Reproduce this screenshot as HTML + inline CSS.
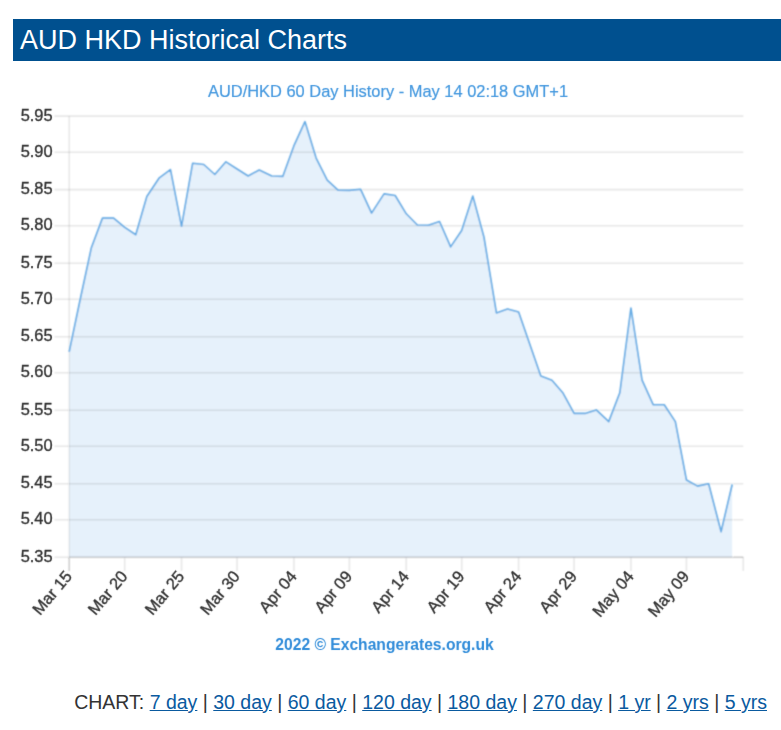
<!DOCTYPE html>
<html><head><meta charset="utf-8"><title>AUD HKD Historical Charts</title>
<style>
html,body{margin:0;padding:0;background:#fff;}
body{width:781px;height:730px;position:relative;overflow:hidden;font-family:"Liberation Sans",sans-serif;}
h2{position:absolute;left:13px;top:19px;width:761px;height:41.5px;margin:0;padding:0 0 0 7px;background:#00508f;color:#fff;font-weight:normal;font-size:27px;line-height:43px;white-space:nowrap;}
svg{position:absolute;left:0;top:0;}
svg text{font-family:"Liberation Sans",sans-serif;}
.links{position:absolute;left:0;top:690px;width:767px;text-align:right;font-size:19.5px;line-height:24px;color:#333;white-space:nowrap;}
.links a{color:#0a5a9f;text-decoration:underline;}
</style></head><body>
<h2>AUD HKD Historical Charts</h2>
<svg width="781" height="730" viewBox="0 0 781 730">
<defs><filter id="bl" x="-5%" y="-5%" width="110%" height="110%"><feConvolveMatrix order="3" kernelMatrix="1 2 1 2 6 2 1 2 1" divisor="18" edgeMode="none" preserveAlpha="false"/></filter><filter id="bt" x="-5%" y="-5%" width="110%" height="110%"><feConvolveMatrix order="3" kernelMatrix="0 1 0 1 8 1 0 1 0" divisor="12" edgeMode="none" preserveAlpha="false"/></filter></defs>
<g id="chart" filter="url(#bl)">
<path d="M69.20,351.80 C69.20,351.80 80.30,299.00 80.30,299.00 C80.30,299.00 91.39,247.70 91.39,247.70 C91.39,247.70 102.49,218.10 102.49,218.10 C102.49,218.10 113.58,218.10 113.58,218.10 C113.58,218.10 124.68,227.40 124.68,227.40 C124.68,227.40 135.78,234.75 135.78,234.75 C135.78,234.75 146.87,196.50 146.87,196.50 C146.87,196.50 159.36,177.80 159.36,177.80 C159.36,177.80 170.45,169.60 170.45,169.60 C170.45,169.60 181.55,226.30 181.55,226.30 C181.55,226.30 192.64,163.30 192.64,163.30 C192.64,163.30 203.74,164.50 203.74,164.50 C203.74,164.50 214.83,174.50 214.83,174.50 C214.83,174.50 225.93,161.80 225.93,161.80 C225.93,161.80 237.03,169.00 237.03,169.00 C237.03,169.00 248.12,176.00 248.12,176.00 C248.12,176.00 259.22,170.00 259.22,170.00 C259.22,170.00 271.70,176.00 271.70,176.00 C271.70,176.00 282.80,176.40 282.80,176.40 C282.80,176.40 293.89,145.90 293.89,145.90 C293.89,145.90 304.99,121.70 304.99,121.70 C304.99,121.70 316.09,158.10 316.09,158.10 C316.09,158.10 327.18,180.20 327.18,180.20 C327.18,180.20 338.28,190.30 338.28,190.30 C338.28,190.30 349.37,190.40 349.37,190.40 C349.37,190.40 360.47,189.20 360.47,189.20 C360.47,189.20 371.57,213.10 371.57,213.10 C371.57,213.10 384.05,193.90 384.05,193.90 C384.05,193.90 395.14,195.50 395.14,195.50 C395.14,195.50 406.24,213.80 406.24,213.80 C406.24,213.80 417.34,225.00 417.34,225.00 C417.34,225.00 428.43,225.20 428.43,225.20 C428.43,225.20 439.53,221.50 439.53,221.50 C439.53,221.50 450.62,246.90 450.62,246.90 C450.62,246.90 461.72,230.50 461.72,230.50 C461.72,230.50 472.82,196.10 472.82,196.10 C472.82,196.10 483.91,237.00 483.91,237.00 C483.91,237.00 496.40,312.90 496.40,312.90 C496.40,312.90 507.49,309.00 507.49,309.00 C507.49,309.00 518.59,311.90 518.59,311.90 C518.59,311.90 529.68,343.90 529.68,343.90 C529.68,343.90 540.78,376.00 540.78,376.00 C540.78,376.00 551.88,380.30 551.88,380.30 C551.88,380.30 562.97,393.10 562.97,393.10 C562.97,393.10 574.07,413.40 574.07,413.40 C574.07,413.40 585.16,413.40 585.16,413.40 C585.16,413.40 596.26,409.90 596.26,409.90 C596.26,409.90 608.74,421.60 608.74,421.60 C608.74,421.60 619.84,392.80 619.84,392.80 C619.84,392.80 630.94,308.00 630.94,308.00 C630.94,308.00 642.03,380.20 642.03,380.20 C642.03,380.20 653.13,404.70 653.13,404.70 C653.13,404.70 664.22,404.70 664.22,404.70 C664.22,404.70 675.32,421.60 675.32,421.60 C675.32,421.60 686.42,480.00 686.42,480.00 C686.42,480.00 697.51,486.10 697.51,486.10 C697.51,486.10 708.61,483.80 708.61,483.80 C708.61,483.80 721.09,531.80 721.09,531.80 C721.09,531.80 732.19,484.50 732.19,484.50 L732.19,557.23 L69.20,557.23 Z" fill="#e6f1fb"/>
<g stroke="#000" stroke-opacity="0.095" stroke-width="1.6">
<line x1="54.5" y1="116.16" x2="743.3" y2="116.16"/><line x1="54.5" y1="152.22" x2="743.3" y2="152.22"/><line x1="54.5" y1="189.67" x2="743.3" y2="189.67"/><line x1="54.5" y1="225.73" x2="743.3" y2="225.73"/><line x1="54.5" y1="263.18" x2="743.3" y2="263.18"/><line x1="54.5" y1="299.24" x2="743.3" y2="299.24"/><line x1="54.5" y1="336.69" x2="743.3" y2="336.69"/><line x1="54.5" y1="372.75" x2="743.3" y2="372.75"/><line x1="54.5" y1="410.20" x2="743.3" y2="410.20"/><line x1="54.5" y1="446.27" x2="743.3" y2="446.27"/><line x1="54.5" y1="483.72" x2="743.3" y2="483.72"/><line x1="54.5" y1="519.78" x2="743.3" y2="519.78"/><line x1="54.5" y1="557.23" x2="743.3" y2="557.23"/>
<line x1="124.68" y1="557.2" x2="124.68" y2="570.9"/><line x1="181.55" y1="557.2" x2="181.55" y2="570.9"/><line x1="237.03" y1="557.2" x2="237.03" y2="570.9"/><line x1="293.89" y1="557.2" x2="293.89" y2="570.9"/><line x1="349.37" y1="557.2" x2="349.37" y2="570.9"/><line x1="406.24" y1="557.2" x2="406.24" y2="570.9"/><line x1="461.72" y1="557.2" x2="461.72" y2="570.9"/><line x1="518.59" y1="557.2" x2="518.59" y2="570.9"/><line x1="574.07" y1="557.2" x2="574.07" y2="570.9"/><line x1="630.94" y1="557.2" x2="630.94" y2="570.9"/><line x1="686.42" y1="557.2" x2="686.42" y2="570.9"/><line x1="743.28" y1="557.2" x2="743.28" y2="570.9"/>
</g>
<line x1="69.2" y1="116.16" x2="69.2" y2="557.226" stroke="#000" stroke-opacity="0.09" stroke-width="1.6"/>
<line x1="69.2" y1="557.226" x2="69.2" y2="570.9" stroke="#000" stroke-opacity="0.22" stroke-width="1.37"/>
<line x1="69.2" y1="557.226" x2="743.282" y2="557.226" stroke="#000" stroke-opacity="0.13" stroke-width="1.37"/>
<path d="M69.20,351.80 C69.20,351.80 80.30,299.00 80.30,299.00 C80.30,299.00 91.39,247.70 91.39,247.70 C91.39,247.70 102.49,218.10 102.49,218.10 C102.49,218.10 113.58,218.10 113.58,218.10 C113.58,218.10 124.68,227.40 124.68,227.40 C124.68,227.40 135.78,234.75 135.78,234.75 C135.78,234.75 146.87,196.50 146.87,196.50 C146.87,196.50 159.36,177.80 159.36,177.80 C159.36,177.80 170.45,169.60 170.45,169.60 C170.45,169.60 181.55,226.30 181.55,226.30 C181.55,226.30 192.64,163.30 192.64,163.30 C192.64,163.30 203.74,164.50 203.74,164.50 C203.74,164.50 214.83,174.50 214.83,174.50 C214.83,174.50 225.93,161.80 225.93,161.80 C225.93,161.80 237.03,169.00 237.03,169.00 C237.03,169.00 248.12,176.00 248.12,176.00 C248.12,176.00 259.22,170.00 259.22,170.00 C259.22,170.00 271.70,176.00 271.70,176.00 C271.70,176.00 282.80,176.40 282.80,176.40 C282.80,176.40 293.89,145.90 293.89,145.90 C293.89,145.90 304.99,121.70 304.99,121.70 C304.99,121.70 316.09,158.10 316.09,158.10 C316.09,158.10 327.18,180.20 327.18,180.20 C327.18,180.20 338.28,190.30 338.28,190.30 C338.28,190.30 349.37,190.40 349.37,190.40 C349.37,190.40 360.47,189.20 360.47,189.20 C360.47,189.20 371.57,213.10 371.57,213.10 C371.57,213.10 384.05,193.90 384.05,193.90 C384.05,193.90 395.14,195.50 395.14,195.50 C395.14,195.50 406.24,213.80 406.24,213.80 C406.24,213.80 417.34,225.00 417.34,225.00 C417.34,225.00 428.43,225.20 428.43,225.20 C428.43,225.20 439.53,221.50 439.53,221.50 C439.53,221.50 450.62,246.90 450.62,246.90 C450.62,246.90 461.72,230.50 461.72,230.50 C461.72,230.50 472.82,196.10 472.82,196.10 C472.82,196.10 483.91,237.00 483.91,237.00 C483.91,237.00 496.40,312.90 496.40,312.90 C496.40,312.90 507.49,309.00 507.49,309.00 C507.49,309.00 518.59,311.90 518.59,311.90 C518.59,311.90 529.68,343.90 529.68,343.90 C529.68,343.90 540.78,376.00 540.78,376.00 C540.78,376.00 551.88,380.30 551.88,380.30 C551.88,380.30 562.97,393.10 562.97,393.10 C562.97,393.10 574.07,413.40 574.07,413.40 C574.07,413.40 585.16,413.40 585.16,413.40 C585.16,413.40 596.26,409.90 596.26,409.90 C596.26,409.90 608.74,421.60 608.74,421.60 C608.74,421.60 619.84,392.80 619.84,392.80 C619.84,392.80 630.94,308.00 630.94,308.00 C630.94,308.00 642.03,380.20 642.03,380.20 C642.03,380.20 653.13,404.70 653.13,404.70 C653.13,404.70 664.22,404.70 664.22,404.70 C664.22,404.70 675.32,421.60 675.32,421.60 C675.32,421.60 686.42,480.00 686.42,480.00 C686.42,480.00 697.51,486.10 697.51,486.10 C697.51,486.10 708.61,483.80 708.61,483.80 C708.61,483.80 721.09,531.80 721.09,531.80 C721.09,531.80 732.19,484.50 732.19,484.50" fill="none" stroke="#62a9e3" stroke-width="1.6" stroke-linejoin="round"/>
</g>
<g id="labels" filter="url(#bt)">
<text x="388" y="96.8" text-anchor="middle" font-size="16.43" fill="#4498df" stroke="#4498df" stroke-width="0.2">AUD/HKD 60 Day History - May 14 02:18 GMT+1</text>
<g font-size="16.43" fill="#333" stroke="#333" stroke-width="0.35">
<text x="52.6" y="120.76" text-anchor="end">5.95</text><text x="52.6" y="156.82" text-anchor="end">5.90</text><text x="52.6" y="194.27" text-anchor="end">5.85</text><text x="52.6" y="230.33" text-anchor="end">5.80</text><text x="52.6" y="267.78" text-anchor="end">5.75</text><text x="52.6" y="303.84" text-anchor="end">5.70</text><text x="52.6" y="341.29" text-anchor="end">5.65</text><text x="52.6" y="377.36" text-anchor="end">5.60</text><text x="52.6" y="414.80" text-anchor="end">5.55</text><text x="52.6" y="450.87" text-anchor="end">5.50</text><text x="52.6" y="488.32" text-anchor="end">5.45</text><text x="52.6" y="524.38" text-anchor="end">5.40</text><text x="52.6" y="561.83" text-anchor="end">5.35</text>
<text transform="translate(68.60,573.2) rotate(-50)" text-anchor="end" dy="5.6">Mar 15</text><text transform="translate(124.08,573.2) rotate(-50)" text-anchor="end" dy="5.6">Mar 20</text><text transform="translate(180.95,573.2) rotate(-50)" text-anchor="end" dy="5.6">Mar 25</text><text transform="translate(236.43,573.2) rotate(-50)" text-anchor="end" dy="5.6">Mar 30</text><text transform="translate(293.29,573.2) rotate(-50)" text-anchor="end" dy="5.6">Apr 04</text><text transform="translate(348.77,573.2) rotate(-50)" text-anchor="end" dy="5.6">Apr 09</text><text transform="translate(405.64,573.2) rotate(-50)" text-anchor="end" dy="5.6">Apr 14</text><text transform="translate(461.12,573.2) rotate(-50)" text-anchor="end" dy="5.6">Apr 19</text><text transform="translate(517.99,573.2) rotate(-50)" text-anchor="end" dy="5.6">Apr 24</text><text transform="translate(573.47,573.2) rotate(-50)" text-anchor="end" dy="5.6">Apr 29</text><text transform="translate(630.34,573.2) rotate(-50)" text-anchor="end" dy="5.6">May 04</text><text transform="translate(685.82,573.2) rotate(-50)" text-anchor="end" dy="5.6">May 09</text>
</g>
<text x="384.5" y="650.4" text-anchor="middle" font-size="15.65" font-weight="bold" fill="#2f8bd9">2022 © Exchangerates.org.uk</text>
</g>
</svg>
<div class="links">CHART: <a>7 day</a> | <a>30 day</a> | <a>60 day</a> | <a>120 day</a> | <a>180 day</a> | <a>270 day</a> | <a>1 yr</a> | <a>2 yrs</a> | <a>5 yrs</a></div>
</body></html>
